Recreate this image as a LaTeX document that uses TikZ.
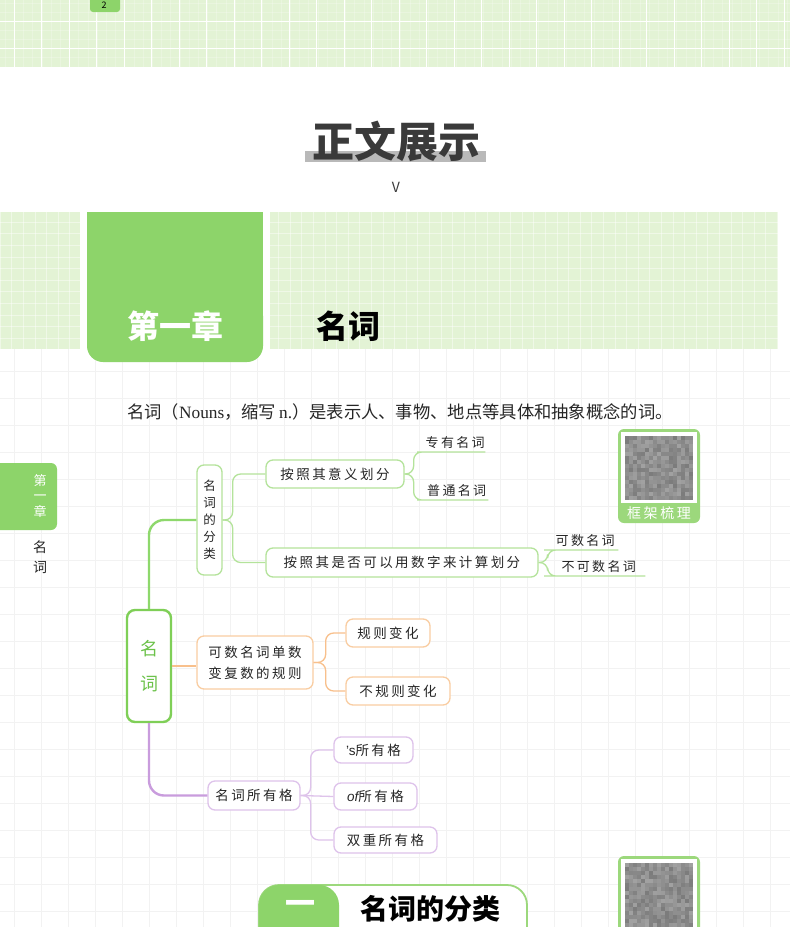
\documentclass[tikz,border=0pt]{standalone}
\usepackage{fontspec}
\setmainfont{Noto Sans CJK SC}
\newfontfamily\mmfont[LetterSpace=18]{Noto Sans CJK SC}
\newfontfamily\latinserif{Liberation Serif}
\usetikzlibrary{calc}
\definecolor{bandgreen}{HTML}{E3F3D5}
\definecolor{tabgreen}{HTML}{8DD46A}
\definecolor{rootgreen}{HTML}{7FCF57}
\definecolor{roottext}{HTML}{6CC24A}
\definecolor{lgreen}{HTML}{B4E39B}
\definecolor{lineg}{HTML}{8ED86C}
\definecolor{oline}{HTML}{F8C08C}
\definecolor{oborder}{HTML}{F9CDA2}
\definecolor{pline}{HTML}{C99CDD}
\definecolor{pborder}{HTML}{DEC3EB}
\definecolor{qgreen}{HTML}{9CD87C}
\definecolor{faint}{HTML}{F2F2F2}
\definecolor{ink}{HTML}{262626}
\definecolor{titleink}{HTML}{3A3A3A}
\tikzset{
  mmbox/.style={draw, fill=white, rounded corners=7pt, line width=1.3pt, inner sep=0pt, text=ink,
    font=\mmfont\fontsize{13.5}{16}\selectfont},
  gbox/.style={mmbox, draw=lgreen},
  obox/.style={mmbox, draw=oborder},
  pbox/.style={mmbox, draw=pborder},
  leaf/.style={inner xsep=0pt, inner ysep=3pt, text=ink, anchor=south west,
    font=\mmfont\fontsize{13}{15}\selectfont},
  gl/.style={draw=lgreen, line width=1.3pt, rounded corners=8pt},
  ol/.style={draw=oline, line width=1.3pt, rounded corners=8pt},
  pl/.style={draw=pborder, line width=1.3pt, rounded corners=8pt},
  thickg/.style={draw=lineg, line width=2.4pt, rounded corners=15pt},
  thicko/.style={draw=oline, line width=2.4pt},
  thickp/.style={draw=pline, line width=2.4pt, rounded corners=15pt},
}
\begin{document}
\begin{tikzpicture}[x=1pt,y=-1pt]
\useasboundingbox (0,0) rectangle (790,927);
\clip (0,0) rectangle (790,927);
\fill[white] (0,0) rectangle (790,927);
% faint page grid
\foreach \x in {14,41,...,790} \draw[faint, line width=0.8pt] (\x,349) -- (\x,927);
\foreach \y in {371,398,...,927} \draw[faint, line width=0.8pt] (0,\y) -- (790,\y);
% top band
\fill[bandgreen] (0,0) rectangle (790,67);
\foreach \x in {5,14.2,...,790} \draw[white, opacity=0.22, line width=0.5pt] (\x,0) -- (\x,67);
\foreach \x in {14,41.5,...,790} \draw[white, line width=1pt] (\x,0) -- (\x,67);
\draw[white, line width=1pt] (0,21) -- (790,21) (0,48) -- (790,48);
\foreach \y in {3,12,30,39,57} \draw[white, opacity=0.22, line width=0.5pt] (0,\y) -- (790,\y);
\fill[tabgreen, rounded corners=3pt] (90,-10) rectangle (120,12);
\node[font=\fontsize{9}{9}\selectfont\itshape, text=black] (pgno) at (104,5) {2};
% title
\fill[gray!55] (305,151) rectangle (486,162);
\node[font=\fontsize{42}{44}\selectfont\bfseries, text=titleink] (title) at (396,141) {正文展示};
\node[font=\fontsize{14}{14}\selectfont, text=titleink] (vmark) at (396,187) {V};
% chapter band
\fill[bandgreen] (0,212) rectangle (778,349);
\foreach \x in {0,11.6,...,778} \draw[white, opacity=0.45, line width=0.6pt] (\x,212) -- (\x,349);
\foreach \y in {222,233.6,...,349} \draw[white, opacity=0.45, line width=0.6pt] (0,\y) -- (778,\y);
\fill[white] (80,212) rectangle (270,349);
\fill[tabgreen] (87,212) rectangle (263,330);
\fill[tabgreen, rounded corners=16pt] (87,300) rectangle (263,362);
\node[font=\fontsize{32}{32}\selectfont\bfseries, text=white] (chap) at (175,326) {第一章};
\node[font=\fontsize{32}{32}\selectfont\bfseries, text=black] (chapname) at (348,326) {名词};
% intro
\node[font=\fontsize{17.3}{17}\selectfont, text=ink] (intro) at (400,412)
  {名词（{\latinserif Nouns}，缩写{\latinserif\,n.}）是表示人、事物、地点等具体和抽象概念的词。};
% side tab
\fill[tabgreen, rounded corners=6pt] (-10,463) rectangle (57,530);
\node[font=\fontsize{13}{15.5}\selectfont, text=white, align=center] (sidetab) at (40,496) {第\\一\\章};
\node[font=\fontsize{14}{20}\selectfont, text=ink, align=center] (sidename) at (40,557) {名\\词};
% QR top
\fill[qgreen, rounded corners=6pt] (618,429) rectangle (700,523);
\fill[white] (621,432) rectangle (697,503);
\pgfmathsetseed{11}
\foreach \i in {0,...,16} \foreach \j in {0,...,15} {
  \pgfmathrandominteger{\g}{46}{64}
  \fill[black!\g] ({625+4*\i},{436+4*\j}) rectangle ++(4,4);
}
\fill[white, opacity=0.2] (625,436) rectangle (693,500);
\node[font=\mmfont\fontsize{14}{14}\selectfont, text=white] (qrlabel) at (659,513) {框架梳理};
% mind map nodes
\node[draw=rootgreen, line width=2.4pt, rounded corners=8pt, fill=white, minimum width=44pt, minimum height=112pt,
  inner sep=0pt, text=roottext, align=center, font=\fontsize{18}{35}\selectfont] (root) at (149,666) {名\\词};
\node[gbox, minimum width=25pt, minimum height=110pt, align=center, font=\mmfont\fontsize{12.5}{17}\selectfont] (cls) at (209.5,520) {名\\词\\的\\分\\类};
\node[gbox, minimum width=138pt, minimum height=28pt] (m1) at (335,474) {按照其意义划分};
\node[gbox, minimum width=272pt, minimum height=29pt] (m2) at (402,562.5) {按照其是否可以用数字来计算划分};
\node[leaf, minimum width=60pt] (t1) at (425,452) {专有名词};
\node[leaf, minimum width=63pt] (t2) at (425,500) {普通名词};
\node[leaf, minimum width=66pt] (t3) at (552,550) {可数名词};
\node[leaf, minimum width=93pt] (t4) at (552,576) {不可数名词};
\node[obox, minimum width=116pt, minimum height=53pt, align=center, font=\mmfont\fontsize{13.5}{21}\selectfont] (o1) at (255,662.5) {可数名词单数\\变复数的规则};
\node[obox, minimum width=84pt, minimum height=28pt] (o2) at (388,633) {规则\,变化};
\node[obox, minimum width=104pt, minimum height=28pt] (o3) at (398,691) {不规则\,变化};
\node[pbox, minimum width=92pt, minimum height=29pt] (p1) at (254,795.5) {名词所有格};
\node[pbox, minimum width=79pt, minimum height=26pt] (p2) at (373.5,750) {{\fontspec{Liberation Sans}’s}所有格};
\node[pbox, minimum width=83pt, minimum height=27pt] (p3) at (375.5,796.5) {{\fontspec{Liberation Sans}\itshape of}所有格};
\node[pbox, minimum width=103pt, minimum height=26pt] (p4) at (385.5,840) {双重所有格};
% connectors
\draw[thickg] (root.north) |- (cls.west);
\draw[thicko] (root.east) -- (root.east -| o1.west);
\draw[thickp] (root.south) |- (p1.west);
\draw[gl] (cls.east) -- ++(10,0) |- (m1.west);
\draw[gl] (cls.east) -- ++(10,0) |- (m2.west);
\draw[gl] (m1.east) -- ++(9,0) |- (t1.south west) -- (t1.south east);
\draw[gl] (m1.east) -- ++(9,0) |- (t2.south west) -- (t2.south east);
\draw[gl] (m2.east) -- ++(9,0) |- (t3.south west) -- (t3.south east);
\draw[gl] (m2.east) -- ++(9,0) |- (t4.south west) -- (t4.south east);
\draw[ol] (o1.east) -- ++(12,0) |- (o2.west);
\draw[ol] (o1.east) -- ++(12,0) |- (o3.west);
\draw[pl] (p1.east) -- ++(10,0) |- (p2.west);
\draw[pl] (p1.east) -- (p3.west);
\draw[pl] (p1.east) -- ++(10,0) |- (p4.west);
% section header
\draw[qgreen, line width=1.8pt, fill=white, rounded corners=20pt] (259,885) rectangle (527,960);
\fill[tabgreen, rounded corners=20pt] (259,885) rectangle (339,960);
\node[font=\fontsize{30}{30}\selectfont\bfseries, text=white] (secnum) at (300,907) {一};
\node[font=\fontsize{28}{28}\selectfont\bfseries, text=black] (sectitle) at (430,909) {名词的分类};
% QR bottom
\fill[qgreen, rounded corners=6pt] (618,856) rectangle (700,960);
\fill[white] (621,859) rectangle (697,960);
\pgfmathsetseed{23}
\foreach \i in {0,...,16} \foreach \j in {0,...,16} {
  \pgfmathrandominteger{\g}{46}{64}
  \fill[black!\g] ({625+4*\i},{863+4*\j}) rectangle ++(4,4);
}
\fill[white, opacity=0.2] (625,863) rectangle (693,931);
\end{tikzpicture}
\end{document}
